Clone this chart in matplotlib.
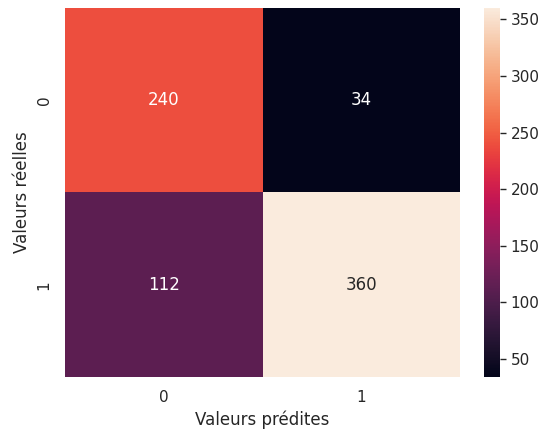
import numpy as np
import matplotlib
matplotlib.use("Agg")
import matplotlib.pyplot as plt
import seaborn as sns

sns.set_theme()
plt.rcParams['font.family'] = ['DejaVu Sans']

labels = ["0", "1"]
values = [[240, 34], [112, 360]]
xlabel = "Valeurs prédites"
ylabel = "Valeurs réelles"

fig = plt.figure(figsize=(5.48, 4.34), dpi=100)
ax = fig.add_axes([65/548, 1-377/434, (460-65)/548, (377-8)/434])
cax = fig.add_axes([484/548, 1-377/434, (500-484)/548, (377-8)/434])
sns.heatmap(np.array(values), annot=True, fmt="d", ax=ax, cbar_ax=cax,
            xticklabels=labels, yticklabels=labels)
ax.set_xlabel(xlabel)
ax.set_ylabel(ylabel)
cax.tick_params(right=True, length=4, width=1, color="#262626")
fig.savefig("out.png", dpi=100)
